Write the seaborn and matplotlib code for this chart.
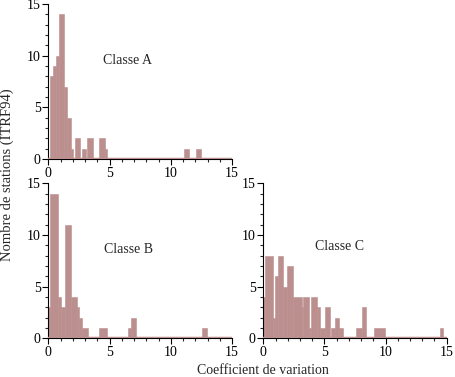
import matplotlib
matplotlib.use("Agg")
import matplotlib.pyplot as plt
import seaborn as sns
import numpy as np
import pandas as pd
from matplotlib.ticker import MultipleLocator

# bar edges (coefficient of variation) and station counts
edges_a = [0, 0.14, 0.38, 0.63, 0.87, 1.28, 1.55, 1.83, 2.04, 2.18, 2.56, 2.72,
           3.05, 3.13, 3.64, 4.16, 4.62, 4.81, 11.08, 11.47, 12.04, 12.5, 15]
counts_a = [0, 8, 9, 10, 14, 7, 4, 1, 0, 2, 0, 1,
            0, 2, 0, 2, 1, 0, 1, 0, 1, 0]

edges_b = [0, 0.14, 0.79, 1.0, 1.36, 1.83, 2.31, 2.5, 2.72, 3.26, 4.16, 4.81,
           6.47, 6.71, 7.12, 12.55, 12.96, 15]
counts_b = [3, 14, 4, 3, 11, 4, 3, 2, 1, 0, 1, 0,
            1, 2, 0, 1, 0]

edges_c = [0, 0.14, 0.82, 0.95, 1.22, 1.58, 1.96, 2.45, 3.13, 3.26, 3.72, 3.94,
           4.4, 4.67, 5.03, 5.43, 5.57, 5.84, 6.17, 6.52, 7.6, 8.1, 8.42,
           9.02, 9.97, 14.46, 14.73, 15]
counts_c = [4, 8, 2, 6, 8, 5, 7, 4, 3, 4, 1, 4,
            3, 1, 3, 0, 1, 2, 1, 0, 1, 3, 0,
            1, 0, 1, 0]

classes = ["Classe A", "Classe B", "Classe C"]
label_pos = [(6.47, 9.5), (6.58, 8.55), (6.25, 8.9)]

sns.set_style("ticks")
plt.rcParams["font.family"] = ["Liberation Serif", "DejaVu Serif"]
plt.rcParams["font.size"] = 10

bar_color = "#bc8f8f"

fig = plt.figure(figsize=(4.56, 3.77), dpi=100)
ax_a = fig.add_axes([0.106, 0.578, 0.403, 0.411])
ax_b = fig.add_axes([0.106, 0.1027, 0.403, 0.411])
ax_c = fig.add_axes([0.5774, 0.1027, 0.402, 0.411])

panels = [(ax_a, edges_a, counts_a), (ax_b, edges_b, counts_b), (ax_c, edges_c, counts_c)]

for (ax, edges, counts), name, pos in zip(panels, classes, label_pos):
    e = np.array(edges)
    df = pd.DataFrame({"cv": (e[:-1] + e[1:]) / 2, "n": counts})
    sns.histplot(data=df, x="cv", weights="n", bins=list(edges), ax=ax,
                 color=bar_color, alpha=1, edgecolor=bar_color, linewidth=0.4)
    # empty bins are drawn as a thick line along the base
    ax.axhline(0, color=bar_color, lw=2.5, zorder=3)
    ax.set_xlim(0, 15)
    ax.set_ylim(0, 15)
    ax.set_xlabel("")
    ax.set_ylabel("")
    ax.xaxis.set_major_locator(MultipleLocator(5))
    ax.xaxis.set_minor_locator(MultipleLocator(1))
    ax.yaxis.set_major_locator(MultipleLocator(5))
    ax.yaxis.set_minor_locator(MultipleLocator(1))
    ax.tick_params(which="major", direction="out", length=4, width=0.8,
                   labelsize=10, pad=1.5, colors="black")
    ax.tick_params(which="minor", direction="out", length=2, width=0.8)
    for s in ["top", "right"]:
        ax.spines[s].set_visible(False)
    for s in ["left", "bottom"]:
        ax.spines[s].set_linewidth(0.8)
        ax.spines[s].set_color("black")
    ax.text(pos[0], pos[1], name, ha="center", va="center", fontsize=10)
    ax.set_facecolor("white")

fig.text(0.016, 0.536, "Nombre de stations (ITRF94)", rotation=90,
         ha="center", va="center", fontsize=10.5)
fig.text(0.577, 0.016, "Coefficient de variation", ha="center", va="center",
         fontsize=10)

fig.savefig("out.png", dpi=100)
